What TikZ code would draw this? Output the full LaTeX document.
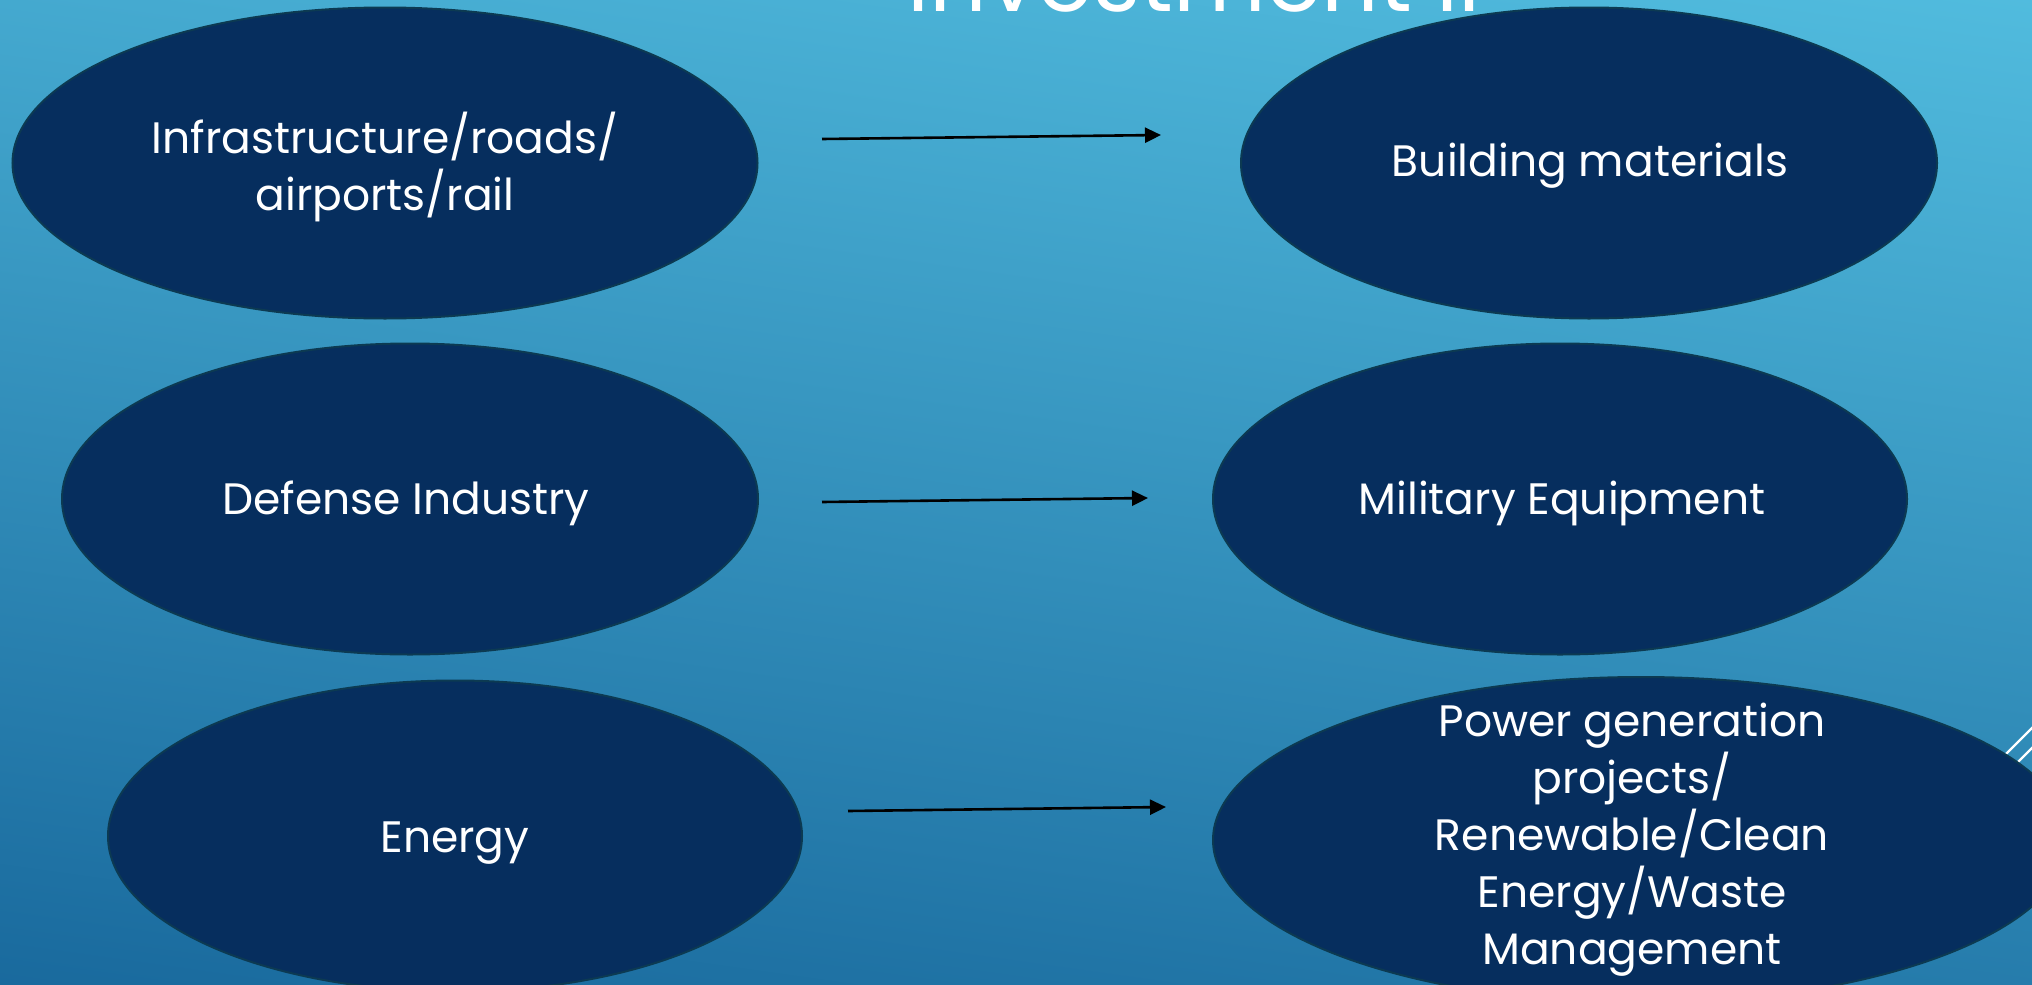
\documentclass[tikz,border=0pt]{standalone}
\usepackage{fontspec}
\setmainfont{Poppins}
\usetikzlibrary{shapes.geometric,arrows.meta}
\definecolor{bgtop}{RGB}{82,189,223}
\definecolor{bgbot}{RGB}{24,104,156}
\definecolor{ovalfill}{RGB}{6,46,94}
\definecolor{ovaledge}{RGB}{12,58,82}
\tikzset{
  oval/.style={ellipse, fill=ovalfill, draw=ovaledge, line width=2pt, inner sep=0pt},
  ovaltext/.style={text=white, align=center, inner sep=0pt, font=\fontsize{44}{57}\selectfont},
  arr/.style={-{Triangle[length=16pt,width=15pt]}, line width=2.6pt, black},
  deco/.style={white, line width=2.2pt}
}
\begin{document}
\begin{tikzpicture}[x=1pt,y=-1pt]
\useasboundingbox (0,0) rectangle (2032,985);
\begin{scope}
\clip (0,0) rectangle (2032,985);
\shade[top color=bgtop, bottom color=bgbot, shading angle=-8] (-100,-100) rectangle (2132,1085);
% title (mostly above the page)
\node[anchor=base, text=white, font=\fontsize{90}{94}\selectfont] (title) at (1194,12) {Investment II};
% decorative lines at right edge
\draw[deco] (2060,700) -- (1900,860);
\draw[deco] (2060,720) -- (1900,880);
% ovals
\node[oval, minimum width=745pt, minimum height=311pt] (e1) at (385,163) {};
\node[oval, minimum width=696pt, minimum height=311pt] (e2) at (1589,163) {};
\node[oval, minimum width=696pt, minimum height=311pt] (e3) at (410,499) {};
\node[oval, minimum width=694pt, minimum height=311pt] (e4) at (1560,499) {};
\node[oval, minimum width=694pt, minimum height=311pt] (e5) at (455,836) {};
\node[oval, minimum width=856pt, minimum height=326pt] (e6) at (1641,840) {};
% texts
\node[ovaltext] (t1) at (385,167) {Infrastructure/roads/\\airports/rail};
\node[ovaltext] (t2) at (1590,166) {Building materials};
\node[ovaltext] (t3) at (406,503) {Defense Industry};
\node[ovaltext] (t4) at (1562,503) {Military Equipment};
\node[ovaltext] (t5) at (455,843) {Energy};
\node[ovaltext] (t6) at (1632,840) {Power generation\\projects/\\Renewable/Clean\\Energy/Waste\\Management};
% arrows
\coordinate (a1s) at (822,139); \coordinate (a1e) at (1161,135);
\coordinate (a2s) at (822,502); \coordinate (a2e) at (1148,498);
\coordinate (a3s) at (848,811); \coordinate (a3e) at (1166,807);
\draw[arr] (a1s) -- (a1e);
\draw[arr] (a2s) -- (a2e);
\draw[arr] (a3s) -- (a3e);
\end{scope}
\end{tikzpicture}
\end{document}
